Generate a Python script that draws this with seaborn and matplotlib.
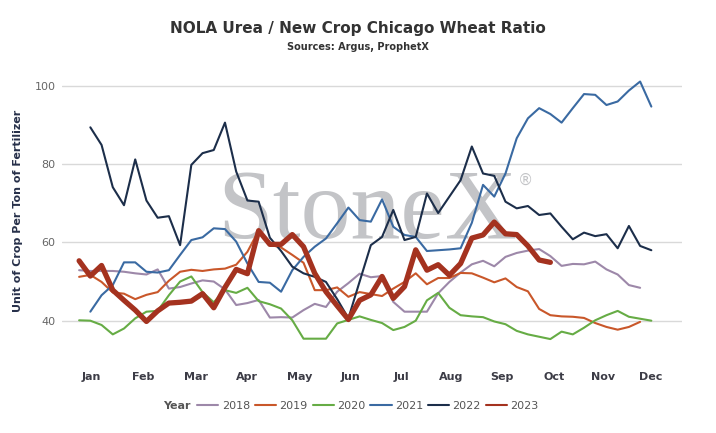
import numpy as np
import pandas as pd
import matplotlib
matplotlib.use("Agg")
import matplotlib.pyplot as plt
from matplotlib.lines import Line2D
import seaborn as sns

# ==================================================
# DATA (weekly ratio)
# ==================================================

months = ["Jan", "Feb", "Mar", "Apr", "May", "Jun",
          "Jul", "Aug", "Sep", "Oct", "Nov", "Dec"]

years = [2018, 2019, 2020, 2021, 2022, 2023]

# first week with a value for each year
first_week = {2018: 1, 2019: 1, 2020: 1, 2021: 2, 2022: 2, 2023: 1}

y2018 = [52.9, 52.7, 52.7, 52.7, 52.5, 52.1, 51.8, 53.1, 48.2, 48.6,
         49.5, 50.3, 50.0, 48.0, 44.0, 44.5, 45.3, 40.8, 40.9, 40.8,
         42.7, 44.3, 43.5, 47.4, 49.6, 52.0, 51.1, 51.4, 44.8, 42.3,
         42.3, 42.3, 47.0, 49.9, 52.3, 54.4, 55.3, 53.9, 56.3, 57.3,
         57.9, 58.3, 56.5, 54.0, 54.5, 54.4, 55.1, 53.1, 51.8, 49.1,
         48.4]

y2019 = [51.2, 51.7, 49.9, 47.2, 46.9, 45.5, 46.6, 47.3, 50.2, 52.5,
         53.0, 52.7, 53.1, 53.3, 54.3, 57.6, 63.0, 59.4, 58.7, 56.8,
         54.8, 47.8, 47.8, 48.5, 46.1, 47.3, 46.8, 46.3, 48.2, 49.9,
         52.1, 49.3, 50.9, 50.9, 52.2, 52.1, 51.0, 49.8, 50.8, 48.6,
         47.5, 43.0, 41.4, 41.1, 41.0, 40.7, 39.4, 38.4, 37.7, 38.4,
         39.7]

y2020 = [40.1, 40.0, 38.9, 36.5, 38.0, 40.6, 42.3, 42.5, 46.5, 50.0,
         51.3, 47.3, 44.7, 47.8, 47.1, 48.4, 45.0, 44.2, 43.1, 40.1,
         35.4, 35.4, 35.4, 39.3, 40.2, 41.1, 40.2, 39.4, 37.6, 38.4,
         40.0, 45.2, 47.1, 43.3, 41.4, 41.1, 40.9, 39.8, 39.1, 37.4,
         36.5, 35.9, 35.3, 37.2, 36.5, 38.2, 40.1, 41.4, 42.5, 41.0,
         40.5, 40.0]

y2021 = [42.3, 46.5, 49.1, 54.9, 54.9, 52.5, 52.3, 52.9, 56.8, 60.6,
         61.3, 63.6, 63.4, 60.2, 54.6, 49.9, 49.7, 47.4, 52.9, 56.3,
         58.9, 61.0, 64.9, 68.9, 65.7, 65.3, 71.0, 64.0, 61.9, 61.4,
         57.8, 58.0, 58.2, 58.5, 65.0, 74.7, 71.7, 77.6, 86.6, 91.7,
         94.3, 92.8, 90.6, 94.3, 97.9, 97.7, 95.1, 96.0, 98.8, 101.1,
         94.7]

y2022 = [89.4, 84.9, 74.1, 69.5, 81.2, 70.7, 66.3, 66.7, 59.3, 79.8,
         82.8, 83.6, 90.6, 78.1, 70.7, 70.4, 61.2, 57.8, 53.8, 52.1,
         51.2, 49.9, 45.5, 40.6, 50.0, 59.3, 61.4, 68.3, 60.6, 61.4,
         72.5, 67.5, 71.7, 75.9, 84.5, 77.6, 77.0, 70.4, 68.7, 69.3,
         67.0, 67.4, 64.0, 60.8, 62.5, 61.6, 62.1, 58.5, 64.2, 59.1,
         58.0]

y2023 = [55.3, 51.4, 54.1, 47.8, 45.2, 42.7, 39.8, 42.5, 44.5, 44.7,
         45.0, 46.9, 43.3, 48.5, 53.1, 52.0, 63.0, 59.5, 59.5, 62.0,
         58.9, 52.1, 47.4, 43.8, 40.3, 45.2, 46.6, 51.3, 45.7, 48.7,
         58.1, 52.9, 54.3, 51.6, 54.6, 61.1, 61.9, 65.2, 62.2, 62.0,
         59.1, 55.5, 54.9]

values = {2018: y2018, 2019: y2019, 2020: y2020,
          2021: y2021, 2022: y2022, 2023: y2023}

rows = []
for yr in years:
    for k, v in enumerate(values[yr]):
        rows.append({"week": first_week[yr] + k, "ratio": v, "year": yr})
df = pd.DataFrame(rows)

# ==================================================
# STYLE
# ==================================================

palette = {2018: "#9d88a9", 2019: "#c9572a", 2020: "#66ac45",
           2021: "#3a6aa2", 2022: "#1c2e4a", 2023: "#a4321f"}
widths = {2018: 1.5, 2019: 1.5, 2020: 1.5, 2021: 1.5, 2022: 1.5, 2023: 3.8}

# month label positions in week units
month_pos = [2.06, 6.75, 11.41, 16.0, 20.7, 25.2, 29.7, 34.2, 38.7, 43.3, 47.7, 51.9]

sns.set_style("white")
plt.rcParams["font.family"] = ["DejaVu Sans"]

fig = plt.figure(figsize=(7.16, 4.33), dpi=100)
ax = fig.add_axes([0.087, 0.169, 0.865, 0.687])

# watermark
ax.text(0.492, 0.41, "StoneX", transform=ax.transAxes, ha="center", va="baseline",
        fontsize=72, family="Liberation Serif", color="#c3c4c7", zorder=1)
ax.text(0.748, 0.605, "\u00ae", transform=ax.transAxes, ha="center", va="center",
        fontsize=11, color="#c3c4c7", zorder=1)

sns.lineplot(data=df, x="week", y="ratio", hue="year", size="year",
             palette=palette, sizes=widths, legend=False, ax=ax, zorder=3)

ax.set_xlim(-0.5, 54.7)
ax.set_ylim(30, 106)
ax.set_yticks([40, 60, 80, 100])
ax.set_xticks(month_pos)
ax.set_xticklabels(months, fontsize=8, fontweight="bold", color="#3c3c46")
ax.tick_params(axis="y", labelsize=8, colors="#666666", length=0, pad=5)
ax.tick_params(axis="x", length=0, pad=9)

ax.grid(axis="y", color="#d9d9d9", linewidth=1)
ax.grid(axis="x", visible=False)
ax.set_axisbelow(True)
for s in ax.spines.values():
    s.set_visible(False)

ax.set_xlabel("")
ax.set_ylabel("Unit of Crop Per Ton of Fertilizer", fontsize=8, fontweight="bold",
              color="#27304a", labelpad=8)

fig.text(0.5, 0.935, "NOLA Urea / New Crop Chicago Wheat Ratio", ha="center",
         va="center", fontsize=11, fontweight="bold", color="#333333")
fig.text(0.5, 0.892, "Sources: Argus, ProphetX", ha="center", va="center",
         fontsize=7, fontweight="bold", color="#333333")

# legend
handles = [Line2D([], [], color=palette[yr], linewidth=1.5) for yr in years]
fig.legend(handles, [str(yr) for yr in years], loc="center", ncol=6,
           bbox_to_anchor=(0.514, 0.063), frameon=False, fontsize=8,
           handlelength=1.9, handletextpad=0.3, columnspacing=0.45,
           labelcolor="#555555", borderpad=0)
fig.text(0.2667, 0.063, "Year", ha="right", va="center", fontsize=8,
         fontweight="bold", color="#555555")

plt.savefig("out.png", dpi=100)
